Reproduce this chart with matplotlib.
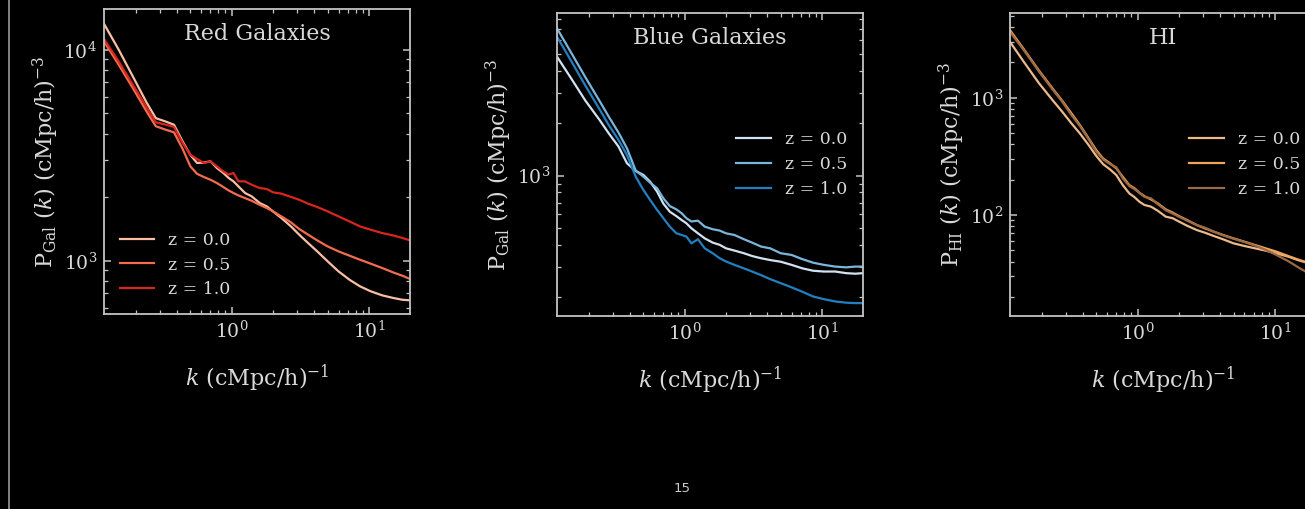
import matplotlib
matplotlib.use('Agg')
import matplotlib.pyplot as plt
from matplotlib.lines import Line2D
from matplotlib.ticker import NullFormatter

# wavenumbers (cMpc/h)^-1
k = [0.1175, 0.15, 0.19, 0.24, 0.28, 0.33, 0.38, 0.44, 0.5, 0.56, 0.63, 0.7,
     0.78, 0.87, 0.95, 1.03, 1.12, 1.25, 1.4, 1.6, 1.8, 2.0, 2.3, 2.7, 3.1,
     3.6, 4.2, 5.0, 6.0, 7.2, 8.6, 10.3, 12.5, 15.0, 17.5, 19.9]

z_labels = ['z = 0.0', 'z = 0.5', 'z = 1.0']

# red galaxies
red_z00 = [13270, 10030, 7500, 5620, 4740, 4570, 4410, 3670, 3170, 2905, 2920, 2960,
           2750, 2604, 2467, 2378, 2250, 2094, 2018, 1877, 1809, 1712, 1594, 1455, 1329,
           1213, 1107, 993, 890, 813, 756, 716, 685, 666, 653, 649]
red_z05 = [10950, 8510, 6600, 5100, 4340, 4180, 4060, 3380, 2800, 2580, 2490, 2420,
           2335, 2234, 2153, 2094, 2038, 1981, 1923, 1841, 1777, 1714, 1622, 1520, 1414,
           1329, 1248, 1169, 1107, 1057, 1011, 968, 923, 880, 849, 819]
red_z10 = [11240, 8810, 6850, 5330, 4530, 4415, 4305, 3610, 3178, 3033, 2903, 2958,
           2800, 2650, 2560, 2605, 2378, 2378, 2291, 2210, 2188, 2109, 2080, 2006, 1946,
           1864, 1797, 1713, 1622, 1536, 1454, 1402, 1352, 1318, 1282, 1248]

# blue galaxies
blue_z00 = [4830, 3594, 2686, 2090, 1750, 1468, 1178, 1064, 1009, 924, 809, 690,
            620, 585, 556, 532, 498, 466, 436, 412, 400, 382, 371, 358, 345,
            335, 327, 320, 307, 293, 284, 281, 281, 275, 273, 275]
blue_z05 = [7030, 5050, 3656, 2686, 2183, 1766, 1436, 1069, 987, 912, 846, 740,
            668, 640, 608, 569, 545, 551, 509, 492, 483, 466, 456, 431, 412,
            391, 382, 358, 350, 331, 316, 307, 300, 297, 300, 300]
blue_z10 = [6300, 4520, 3273, 2405, 1954, 1603, 1315, 987, 828, 725, 635, 569,
            509, 466, 456, 446, 408, 431, 382, 358, 335, 321, 307, 293, 281,
            268, 254, 241, 228, 215, 202, 195, 189, 186, 185, 185]

# neutral hydrogen
hi_z00 = [3000, 1986, 1343, 955, 770, 604, 496, 395, 319, 272, 245, 219,
          180, 153, 142, 130, 122, 118, 109, 97, 94, 88, 81, 74.5, 70.7,
          66.2, 62.1, 57.4, 54.5, 52, 49.7, 47.1, 44.2, 41.0, 39.0, 37.3]
hi_z05 = [3776, 2547, 1721, 1202, 955, 735, 585, 450, 358, 304, 276, 250,
          212, 180, 169, 155, 145, 136, 126, 112, 105, 98, 90.6, 82.2, 76.9,
          72.1, 67.6, 63.3, 59.3, 55.5, 52, 48.7, 44.8, 41.5, 39.2, 37.5]
hi_z10 = [3648, 2500, 1688, 1178, 937, 711, 574, 442, 347, 298, 272, 255,
          205, 177, 166, 155, 143, 139, 124, 110, 103, 96.8, 89.5, 82.2, 78,
          72.1, 67.1, 62.8, 58.9, 54.8, 50.4, 45.6, 40.5, 35.5, 32.0, 29.0]

fg = '#d9d9d9'
frame = '#c4c4c4'

plt.rcParams.update({
    'font.family': 'serif',
    'font.serif': ['DejaVu Serif'],
    'mathtext.fontset': 'dejavuserif',
    'text.color': fg,
    'axes.labelcolor': fg,
    'axes.edgecolor': frame,
    'axes.linewidth': 1.3,
    'xtick.color': frame,
    'ytick.color': frame,
    'xtick.labelcolor': fg,
    'ytick.labelcolor': fg,
})


def draw_panel(ax, curves, colors, title, ylabel, ylim, legend_loc):
    for vals, c, lab in zip(curves, colors, z_labels):
        ax.plot(k, vals, color=c, lw=1.6, label=lab)
    ax.set_xscale('log')
    ax.set_yscale('log')
    ax.set_xlim(k[0], k[-1])
    ax.set_ylim(ylim)
    ax.set_facecolor('black')
    ax.tick_params(which='both', direction='in', top=True, right=True,
                   labelsize=13.5, pad=5)
    ax.tick_params(which='major', length=5, width=1.1)
    ax.tick_params(which='minor', length=3, width=0.9)
    ax.xaxis.set_minor_formatter(NullFormatter())
    ax.yaxis.set_minor_formatter(NullFormatter())
    ax.set_xlabel(r'$k$ (cMpc/h)$^{-1}$', fontsize=16, labelpad=15)
    ax.set_ylabel(ylabel, fontsize=16, labelpad=2)
    ax.text(0.5, 0.918, title, transform=ax.transAxes, ha='center', va='center',
            fontsize=16, color=fg)
    ax.legend(loc=legend_loc, frameon=False, fontsize=12.5, labelcolor=fg,
              handlelength=2.0, handletextpad=0.8, labelspacing=0.45)


fig = plt.figure(figsize=(13.05, 5.09), dpi=100, facecolor='black')

ax1 = fig.add_axes([0.0797, 0.3831, 0.2345, 0.5992])
draw_panel(ax1, [red_z00, red_z05, red_z10], ['#f8bfa4', '#f26c4f', '#d7261e'],
           'Red Galaxies', r'P$_{\rm Gal}$ ($k$) (cMpc/h)$^{-3}$', (559, 15600),
           'lower left')

ax2 = fig.add_axes([0.4268, 0.3792, 0.2345, 0.5953])
draw_panel(ax2, [blue_z00, blue_z05, blue_z10], ['#d2e2f0', '#7ab6dc', '#2280c0'],
           'Blue Galaxies', r'P$_{\rm Gal}$ ($k$) (cMpc/h)$^{-3}$', (156, 8610),
           'center right')

ax3 = fig.add_axes([0.7739, 0.3792, 0.2345, 0.5953])
draw_panel(ax3, [hi_z00, hi_z05, hi_z10], ['#ebb98c', '#f0a45c', '#9b6a45'],
           'HI', r'P$_{\rm HI}$ ($k$) (cMpc/h)$^{-3}$', (13.8, 5280),
           'center right')

# slide edge and page number
fig.add_artist(Line2D([8.5 / 1305, 8.5 / 1305], [0, 1], transform=fig.transFigure,
                      color='#9a9a9a', lw=1.2))
fig.text(682 / 1305, 1 - 489 / 509, '15', color='#cccccc', fontsize=9.5,
         family='DejaVu Sans', ha='center', va='center')

fig.savefig('out.png', dpi=100, facecolor='black')
